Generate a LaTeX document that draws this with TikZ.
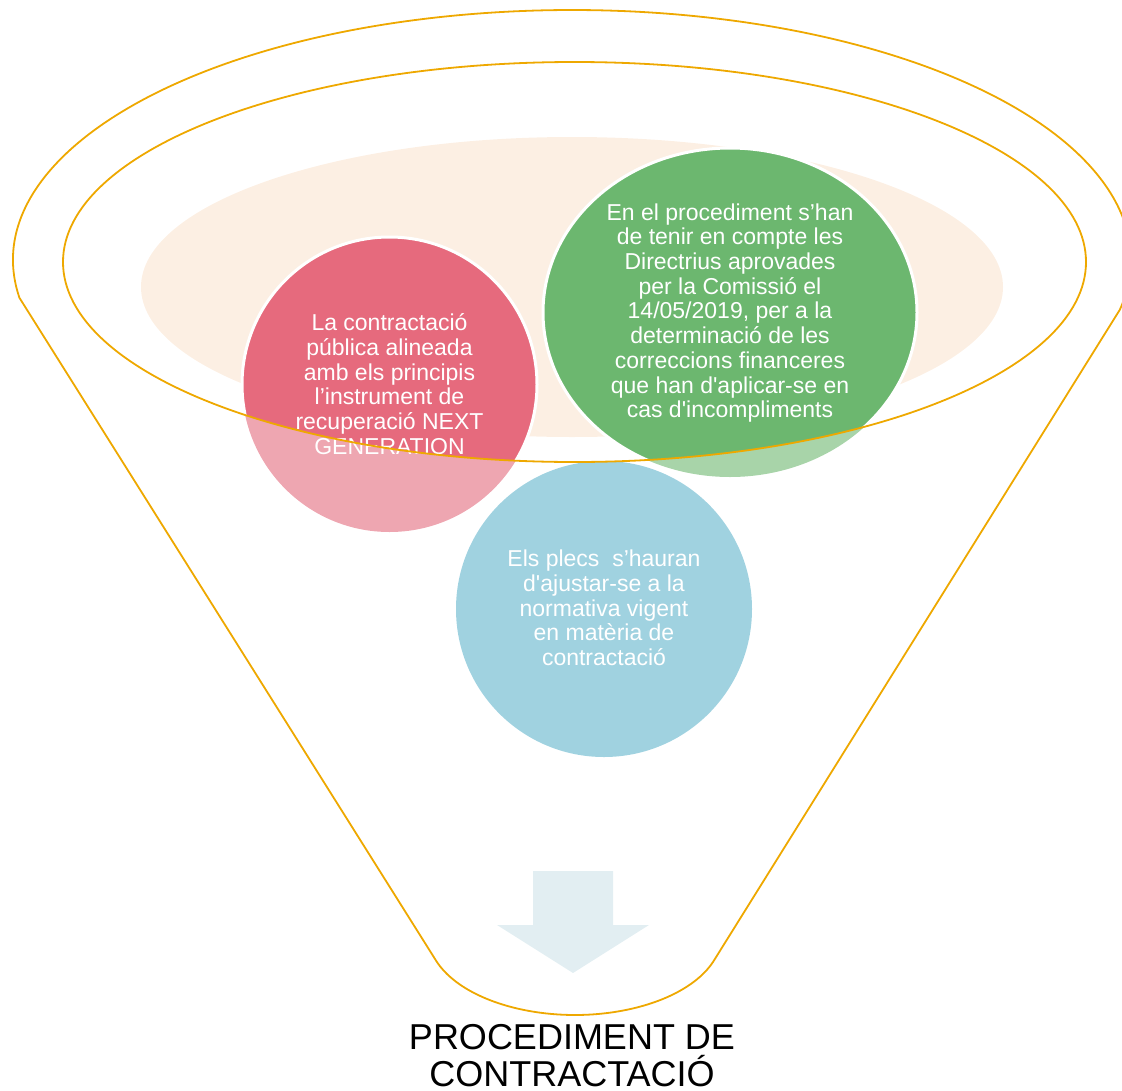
\documentclass[tikz,border=0pt]{standalone}
\usepackage{fontspec}
\setmainfont{Liberation Sans}[Ligatures=TeXOff]
\definecolor{funnel}{HTML}{EEA800}
\definecolor{beige}{HTML}{FCEFE3}
\definecolor{redc}{HTML}{E66A7D}
\definecolor{redl}{HTML}{EEA6B1}
\definecolor{greenc}{HTML}{6CB76F}
\definecolor{greenl}{HTML}{A8D4A9}
\definecolor{bluec}{HTML}{A0D2E0}
\definecolor{arrowc}{HTML}{E2EEF2}
\begin{document}
\begin{tikzpicture}[x=1pt,y=-1pt,
  funnelline/.style={draw=funnel,line width=1.8pt},
  ctext/.style={text=white,align=center,inner sep=0pt,font=\fontsize{23}{24.7}\selectfont},
  ttext/.style={text=black,align=center,inner sep=0pt,font=\fontsize{36}{37}\selectfont},
  rim/.style={draw=white,line width=3pt}]
\useasboundingbox (0,0) rectangle (1122,1090);
% background ellipse
\fill[beige] (572,287) ellipse[x radius=431,y radius=150];
% light (outside) parts
\fill[redl] (389.5,384.5) circle[radius=147.5];
\fill[greenl] (730,312.5) ellipse[x radius=187,y radius=164.5];
\fill[bluec] (604,609) circle[radius=148];
% full-colour parts inside inner ellipse
\begin{scope}
  \clip (574.5,262) ellipse[x radius=511.5,y radius=200];
  \filldraw[fill=redc,rim] (389.5,384.5) circle[radius=147.5];
  \filldraw[fill=greenc,rim] (730,312.5) ellipse[x radius=187,y radius=164.5];
\end{scope}
% texts
\node[ctext] (t1) at (389.5,384) {La contractació\\pública alineada\\amb els principis\\l’instrument de\\recuperació NEXT\\GENERATION};
\node[ctext] (t2) at (730,313) {En el procediment s’han\\de tenir en compte les\\Directrius aprovades\\per la Comissió el\\14/05/2019, per a la\\determinació de les\\correccions financeres\\que han d'aplicar-se en\\cas d'incompliments};
\node[ctext] (t3) at (604,608) {Els plecs\ \ s’hauran\\d'ajustar-se a la\\normativa vigent\\en matèria de\\contractació};
% funnel outlines
\draw[funnelline] (574.5,262) ellipse[x radius=511.5,y radius=200];
\draw[funnelline,line join=round] (572,260) ++(171.3:559 and 250)
  arc[start angle=171.3,end angle=371.5,x radius=559,y radius=250]
  -- (713,962)
  arc[start angle=20,end angle=160,x radius=146.9,y radius=80.5]
  -- cycle;
% arrow
\fill[arrowc] (533,871) -- (613,871) -- (613,925) -- (649,925) -- (573,973) -- (497,925) -- (533,925) -- cycle;
% title
\node[ttext] (title) at (572,1056) {PROCEDIMENT DE\\CONTRACTACIÓ};
\end{tikzpicture}
\end{document}
